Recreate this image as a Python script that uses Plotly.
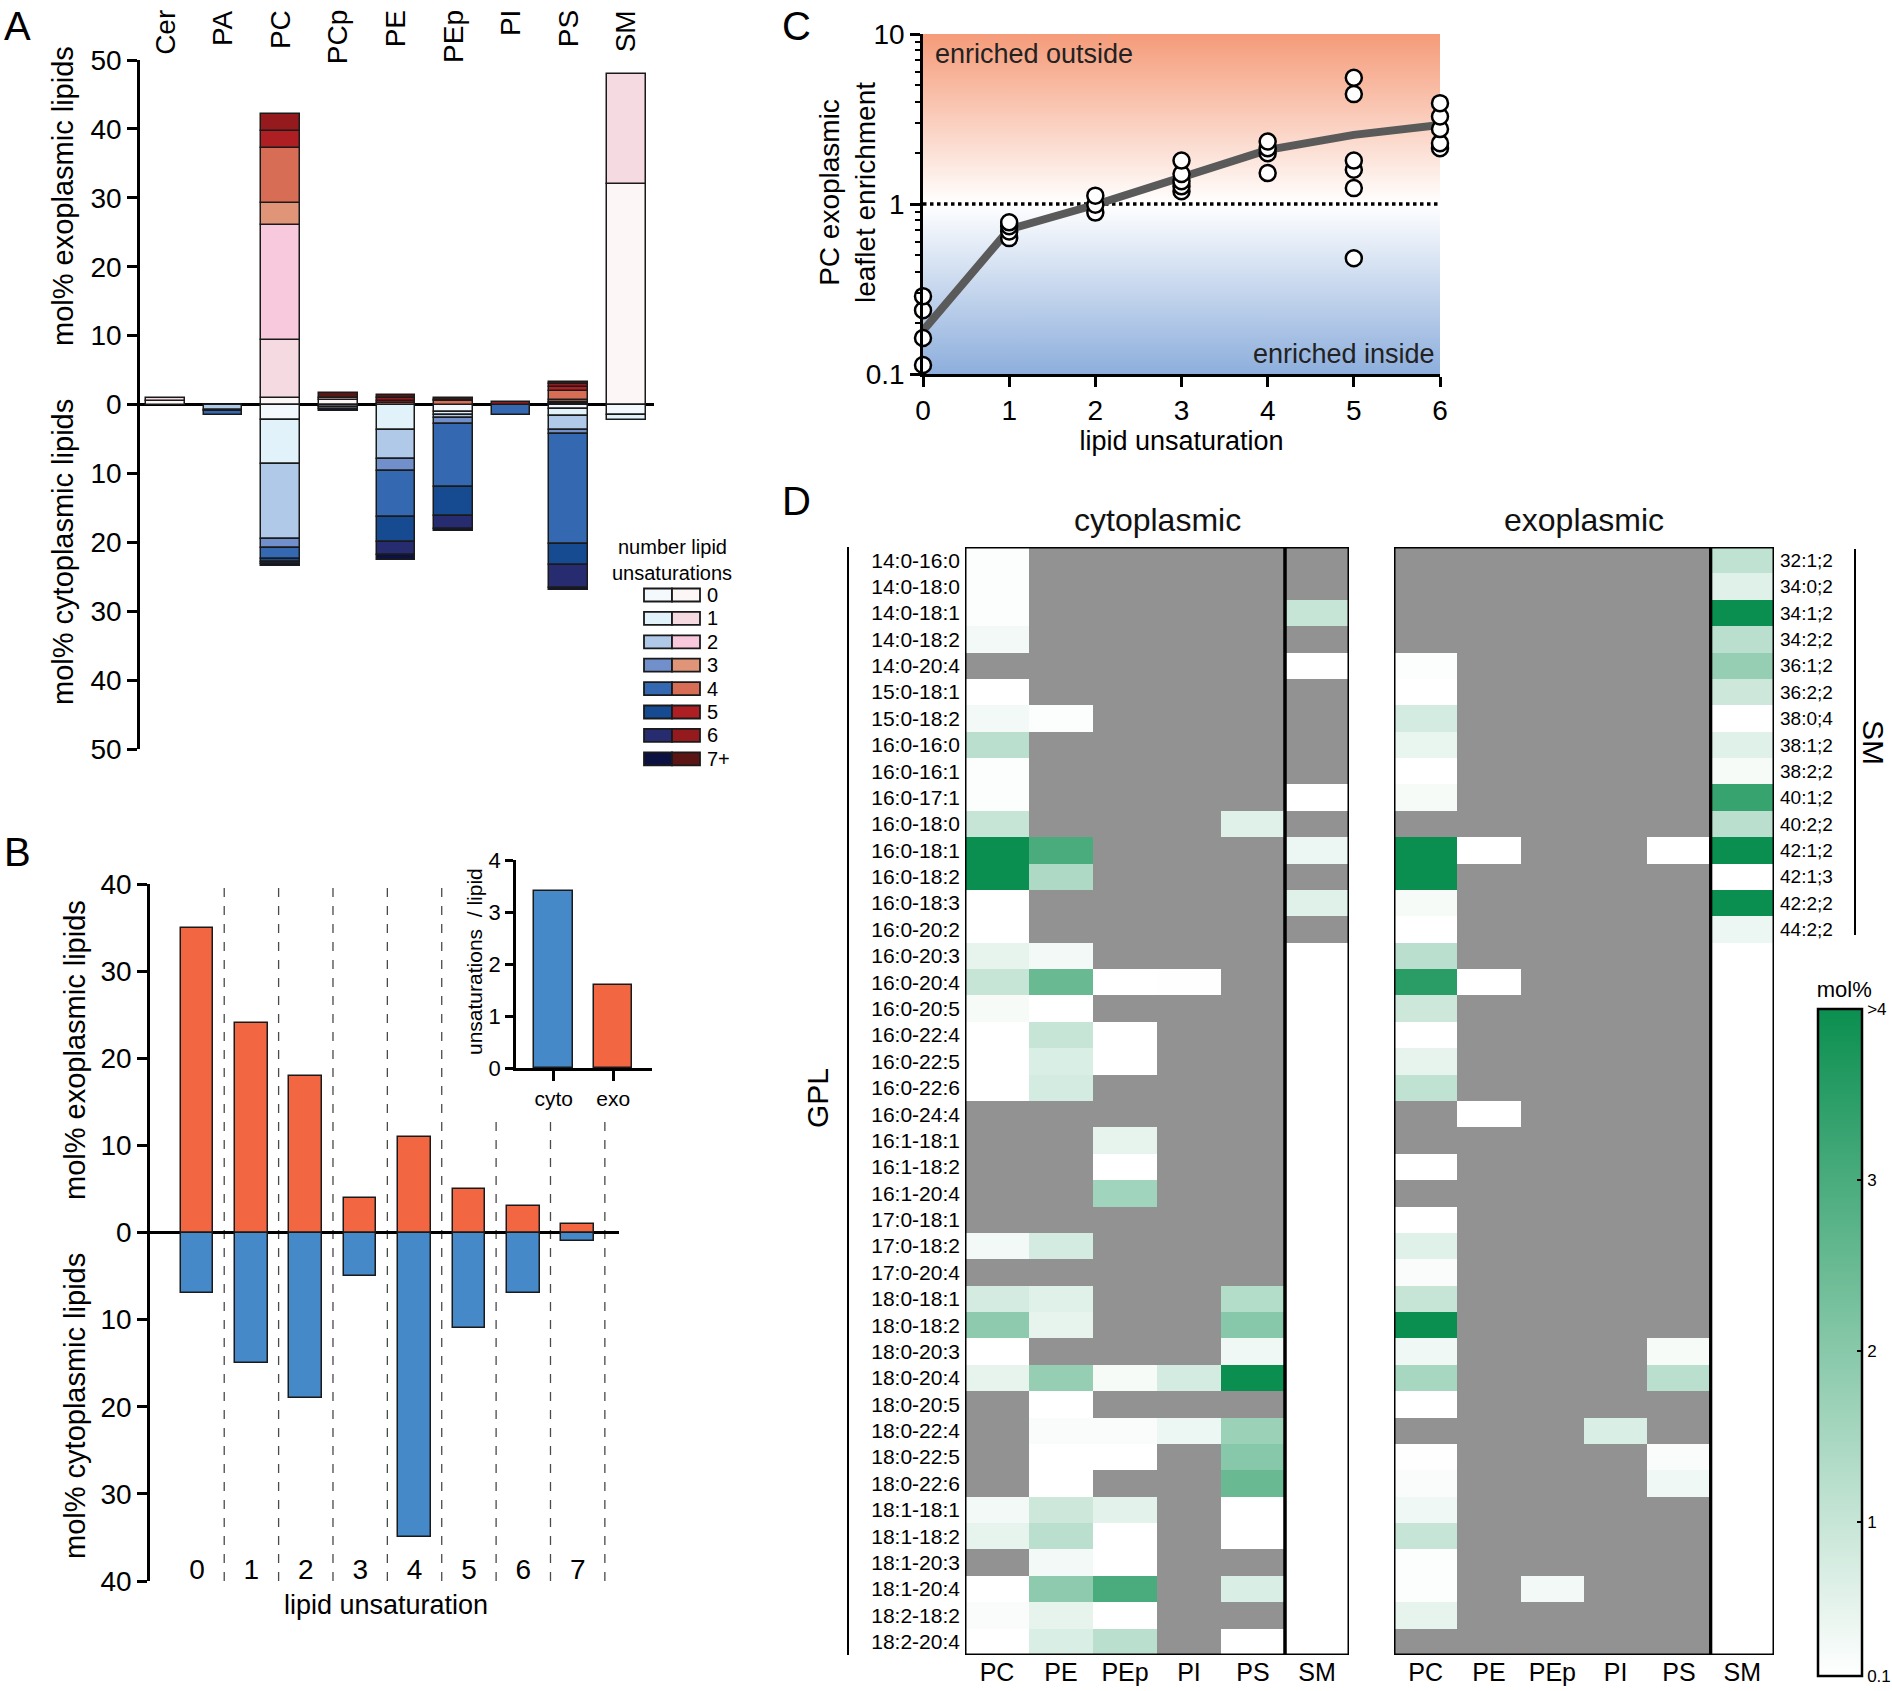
import plotly.graph_objects as go

W, H = 1892, 1691


def fx(p):
    return p / W


def fy(p):
    return 1 - p / H


NARROW = "Liberation Sans Narrow, Arial Narrow, Liberation Sans, Arial, sans-serif"
SANS = "Liberation Sans, Arial, Helvetica, sans-serif"
N = None

# ---------------- Panel A data ----------------
lipid_classes = ['Cer', 'PA', 'PC', 'PCp', 'PE', 'PEp', 'PI', 'PS', 'SM']
unsat_levels = ['0', '1', '2', '3', '4', '5', '6', '7+']
exo_lvl0 = [0.5, 0, 1.0, 0.7, 0, 0, 0, 0.1, 32.0]
exo_lvl1 = [0.4, 0, 8.3, 0.3, 0, 0, 0, 0.1, 16.0]
exo_lvl2 = [0, 0, 16.7, 0, 0, 0, 0, 0.2, 0]
exo_lvl3 = [0, 0, 3.3, 0, 0, 0, 0, 0.2, 0]
exo_lvl4 = [0, 0, 7.9, 0, 0.2, 0.5, 0, 1.4, 0]
exo_lvl5 = [0, 0, 2.5, 0, 0.3, 0, 0, 0.5, 0]
exo_lvl6 = [0, 0, 2.5, 0, 0.4, 0.1, 0.3, 0.5, 0]
exo_lvl7 = [0, 0, 0, 0.6, 0.5, 0.4, 0, 0.3, 0]
cyto_lvl0 = [0, 0, 2.3, 0.4, 0, 1.1, 0, 0.6, 1.5]
cyto_lvl1 = [0, 0.1, 6.3, 0.2, 3.7, 0.4, 0, 1.0, 0.8]
cyto_lvl2 = [0, 0.7, 10.9, 0, 4.2, 0.5, 0, 2.1, 0]
cyto_lvl3 = [0, 0.1, 1.3, 0, 1.8, 0.8, 0, 0.6, 0]
cyto_lvl4 = [0, 0.6, 1.6, 0, 6.6, 9.2, 1.5, 16.0, 0]
cyto_lvl5 = [0, 0, 0.4, 0, 3.6, 4.2, 0, 3.0, 0]
cyto_lvl6 = [0, 0, 0.3, 0, 1.9, 1.8, 0, 3.3, 0]
cyto_lvl7 = [0, 0, 0.3, 0.4, 0.7, 0.4, 0, 0.3, 0]
exo_levels = [exo_lvl0, exo_lvl1, exo_lvl2, exo_lvl3, exo_lvl4, exo_lvl5, exo_lvl6, exo_lvl7]
cyto_levels = [cyto_lvl0, cyto_lvl1, cyto_lvl2, cyto_lvl3, cyto_lvl4, cyto_lvl5, cyto_lvl6, cyto_lvl7]
blue_scale = ['#f4f9fd', '#e1f2fb', '#b1c9e8', '#7190cb', '#3469b1', '#164b92', '#272c71', '#0b1242']
red_scale = ['#fdf6f7', '#f5dbe1', '#f8c9dc', '#e09478', '#d86d55', '#ae1f24', '#951a1e', '#5b1515']

# ---------------- Panel B data ----------------
unsat_b = [0, 1, 2, 3, 4, 5, 6, 7]
exo_b = [35, 24, 18, 4, 11, 5, 3, 1]
cyto_b = [7, 15, 19, 5, 35, 11, 7, 1]
inset_cats = ['cyto', 'exo']
inset_vals = [3.4, 1.6]
EXO_C = '#f26641'
CYTO_C = '#4589c8'

# ---------------- Panel C data ----------------
c_unsat = [0, 1, 2, 3, 4, 5, 6]
c_mean = [0.18, 0.71, 0.99, 1.42, 2.08, 2.55, 2.92]
c_reps = [
    [0.113, 0.163, 0.237, 0.287],
    [0.63, 0.69, 0.74, 0.78],
    [0.89, 0.99, 1.12],
    [1.19, 1.27, 1.36, 1.50, 1.80],
    [1.52, 1.99, 2.13, 2.33],
    [0.48, 1.24, 1.59, 1.80, 4.43, 5.53],
    [2.13, 2.28, 2.76, 3.27, 3.92],
]

# ---------------- Panel D data ----------------
gpl_species = ['14:0-16:0', '14:0-18:0', '14:0-18:1', '14:0-18:2', '14:0-20:4', '15:0-18:1',
               '15:0-18:2', '16:0-16:0', '16:0-16:1', '16:0-17:1', '16:0-18:0', '16:0-18:1',
               '16:0-18:2', '16:0-18:3', '16:0-20:2', '16:0-20:3', '16:0-20:4', '16:0-20:5',
               '16:0-22:4', '16:0-22:5', '16:0-22:6', '16:0-24:4', '16:1-18:1', '16:1-18:2',
               '16:1-20:4', '17:0-18:1', '17:0-18:2', '17:0-20:4', '18:0-18:1', '18:0-18:2',
               '18:0-20:3', '18:0-20:4', '18:0-20:5', '18:0-22:4', '18:0-22:5', '18:0-22:6',
               '18:1-18:1', '18:1-18:2', '18:1-20:3', '18:1-20:4', '18:2-18:2', '18:2-20:4']
sm_species = ['32:1;2', '34:0;2', '34:1;2', '34:2;2', '36:1;2', '36:2;2', '38:0;4', '38:1;2',
              '38:2;2', '40:1;2', '40:2;2', '42:1;2', '42:1;3', '42:2;2', '44:2;2']
hm_cols = ['PC', 'PE', 'PEp', 'PI', 'PS', 'SM']

cyto_PC = [0.15, 0.15, 0.15, 0.3, N, 0.1, 0.3, 1.2, 0.15, 0.15, 1.0, 4.5, 4.5, 0.1, 0.1, 0.5, 1.0,
           0.25, 0.1, 0.1, 0.1, N, N, N, N, N, 0.3, N, 0.8, 1.9, 0.1, 0.5, N, N, N, N, 0.3, 0.5,
           N, 0.1, 0.2, 0.1]
cyto_PE = [N, N, N, N, N, N, 0.15, N, N, N, N, 3.0, 1.4, N, N, 0.3, 2.5, 0.1, 1.0, 0.7, 0.8,
           N, N, N, N, N, 0.8, N, 0.6, 0.5, N, 1.8, 0.1, 0.2, 0.1, 0.1, 0.9, 1.2, 0.3, 1.9, 0.5, 0.7]
cyto_PEp = [N, N, N, N, N, N, N, N, N, N, N, N, N, N, N, N, 0.1, N, 0.1, 0.1, N, N, 0.5, 0.1,
            1.6, N, N, N, N, N, N, 0.25, N, 0.2, 0.1, N, 0.55, 0.1, 0.1, 3.0, 0.1, 1.2]
cyto_PI = [N, N, N, N, N, N, N, N, N, N, N, N, N, N, N, N, 0.12, N, N, N, N, N, N, N, N, N,
           N, N, N, N, N, 0.8, N, 0.4, N, N, N, N, N, N, N, N]
cyto_PS = [N, N, N, N, N, N, N, N, N, N, 0.6, N, N, N, N, N, N, N, N, N, N, N, N, N, N, N, N,
           N, 1.3, 2.0, 0.35, 4.5, N, 1.7, 2.0, 2.5, 0.1, 0.1, N, 0.7, N, 0.1]
cyto_SM = [N, N, 1.0, N, 0.1, N, N, N, N, 0.1, N, 0.4, N, 0.6, N]

exo_PC = [N, N, N, N, 0.15, 0.1, 0.8, 0.45, 0.1, 0.25, N, 4.5, 4.5, 0.25, 0.1, 1.2, 3.5, 0.9,
          0.1, 0.5, 1.1, N, N, 0.1, N, 0.1, 0.6, 0.2, 1.0, 4.5, 0.35, 1.5, 0.1, N, 0.12, 0.2,
          0.35, 1.0, 0.15, 0.15, 0.5, N]
exo_PE = [N, N, N, N, N, N, N, N, N, N, N, 0.1, N, N, N, N, 0.1, N, N, N, N, 0.1, N, N, N, N,
          N, N, N, N, N, N, N, N, N, N, N, N, N, N, N, N]
exo_PEp = [N, N, N, N, N, N, N, N, N, N, N, N, N, N, N, N, N, N, N, N, N, N, N, N, N, N, N, N,
           N, N, N, N, N, N, N, N, N, N, N, 0.3, N, N]
exo_PI = [N, N, N, N, N, N, N, N, N, N, N, N, N, N, N, N, N, N, N, N, N, N, N, N, N, N, N, N,
          N, N, N, N, N, 0.7, N, N, N, N, N, N, N, N]
exo_PS = [N, N, N, N, N, N, N, N, N, N, N, 0.1, N, N, N, N, N, N, N, N, N, N, N, N, N, N, N,
          N, N, N, 0.25, 1.2, N, N, 0.2, 0.35, N, N, N, N, N, N]
exo_SM = [1.1, 0.6, 4.5, 1.2, 1.8, 0.9, 0.1, 0.6, 0.25, 3.3, 1.2, 4.5, 0.1, 4.5, 0.4]

GRAY = '#929292'
GREEN_SCALE = [[0, '#ffffff'], [1, '#0b8f50']]

fig = go.Figure()

# ---------------- Panel A ----------------
for i in range(len(unsat_levels)):
    fig.add_trace(go.Bar(
        x=lipid_classes, y=[v if v else None for v in exo_levels[i]], width=0.67,
        marker=dict(color=red_scale[i], line=dict(color='#1a1a1a', width=1.5)),
        xaxis='x', yaxis='y', showlegend=False, name='exo ' + unsat_levels[i]))
    fig.add_trace(go.Bar(
        x=lipid_classes, y=[-v if v else None for v in cyto_levels[i]], width=0.67,
        marker=dict(color=blue_scale[i], line=dict(color='#1a1a1a', width=1.5)),
        xaxis='x', yaxis='y', showlegend=False, name='cyto ' + unsat_levels[i]))

# ---------------- Panel B ----------------
fig.add_trace(go.Bar(x=unsat_b, y=exo_b, width=0.6,
                     marker=dict(color=EXO_C, line=dict(color='#1a1a1a', width=1.5)),
                     xaxis='x2', yaxis='y2', showlegend=False))
fig.add_trace(go.Bar(x=unsat_b, y=[-v for v in cyto_b], width=0.6,
                     marker=dict(color=CYTO_C, line=dict(color='#1a1a1a', width=1.5)),
                     xaxis='x2', yaxis='y2', showlegend=False))
fig.add_trace(go.Scatter(x=unsat_b, y=[-39] * len(unsat_b), mode='text',
                         text=[str(u) for u in unsat_b], cliponaxis=False,
                         textfont=dict(size=28, family=NARROW, color='black'),
                         xaxis='x2', yaxis='y2', showlegend=False, hoverinfo='skip'))
fig.add_trace(go.Bar(x=inset_cats, y=inset_vals, width=0.65,
                     marker=dict(color=[CYTO_C, EXO_C], line=dict(color='#1a1a1a', width=1.5)),
                     xaxis='x3', yaxis='y3', showlegend=False))

# ---------------- Panel C ----------------
fig.add_trace(go.Scatter(
    x=[0, 6, 6, 0, 0], y=[0.1, 0.1, 10, 10, 0.1], mode='lines', fill='toself',
    line=dict(width=0), hoverinfo='skip', showlegend=False,
    fillgradient=dict(type='vertical',
                      colorscale=[[0, '#8daedc'], [0.5, '#ffffff'], [1, '#f59b79']]),
    xaxis='x4', yaxis='y4'))
fig.add_trace(go.Scatter(x=[c_unsat[0], c_unsat[-1]], y=[1, 1], mode='lines',
                         line=dict(color='black', width=3.5, dash='dot'),
                         xaxis='x4', yaxis='y4', showlegend=False, hoverinfo='skip'))
fig.add_trace(go.Scatter(x=c_unsat, y=c_mean, mode='lines',
                         line=dict(color='#5a5a5a', width=8),
                         xaxis='x4', yaxis='y4', showlegend=False))
pts_x, pts_y = [], []
for u, reps in zip(c_unsat, c_reps):
    for v in reps:
        pts_x.append(u)
        pts_y.append(v)
fig.add_trace(go.Scatter(x=pts_x, y=pts_y, mode='markers', cliponaxis=False,
                         marker=dict(symbol='circle', size=16, color='white',
                                     line=dict(color='black', width=2.5)),
                         xaxis='x4', yaxis='y4', showlegend=False))


# ---------------- Panel D ----------------
def build(cols, sm):
    z, mask = [], []
    n = len(gpl_species)
    for r in range(n):
        row, mrow = [], []
        for col in cols:
            v = col[r]
            row.append(v)
            mrow.append(1 if v is None else None)
        if r < len(sm):
            row.append(sm[r])
            mrow.append(1 if sm[r] is None else None)
        else:
            row.append(None)
            mrow.append(None)
        z.append(row)
        mask.append(mrow)
    return z, mask


z_cyto, m_cyto = build([cyto_PC, cyto_PE, cyto_PEp, cyto_PI, cyto_PS], cyto_SM)
z_exo, m_exo = build([exo_PC, exo_PE, exo_PEp, exo_PI, exo_PS], exo_SM)

for z, m, xa, ya in [(z_cyto, m_cyto, 'x5', 'y5'), (z_exo, m_exo, 'x6', 'y6')]:
    fig.add_trace(go.Heatmap(x=hm_cols, y=gpl_species, z=m,
                             colorscale=[[0, GRAY], [1, GRAY]], showscale=False,
                             hoverinfo='skip', xaxis=xa, yaxis=ya))
    fig.add_trace(go.Heatmap(x=hm_cols, y=gpl_species, z=z, coloraxis='coloraxis',
                             xaxis=xa, yaxis=ya))

# ---------------- Layout ----------------
axis_common = dict(color='black', linecolor='black', tickcolor='black', showgrid=False,
                   zeroline=False)
tick_abs = [-50, -40, -30, -20, -10, 0, 10, 20, 30, 40, 50]
tick_abs_b = [-40, -30, -20, -10, 0, 10, 20, 30, 40]

layout = dict(
    width=W, height=H, autosize=False,
    margin=dict(l=0, r=0, t=0, b=0, autoexpand=False),
    paper_bgcolor='white', plot_bgcolor='rgba(0,0,0,0)',
    barmode='relative', bargap=0,
    font=dict(family=NARROW, color='black', size=26),
    showlegend=False,
    # Panel A
    xaxis=dict(domain=[fx(140), fx(654)], anchor='y', side='top', type='category',
               range=[-0.44, 8.48], showticklabels=False, ticks='', showline=False,
               **axis_common),
    yaxis=dict(domain=[fy(749), fy(60)], anchor='x', range=[-50, 50],
               tickvals=tick_abs, ticktext=[str(abs(v)) for v in tick_abs],
               ticks='outside', ticklen=10, tickwidth=2.5, showline=True, linewidth=2.5,
               tickfont=dict(size=28, family=NARROW),
               **{**axis_common, 'zeroline': True}, zerolinecolor='black', zerolinewidth=2.5),
    # Panel B
    xaxis2=dict(domain=[fx(150), fx(619)], anchor='y2', range=[-0.865, 7.76],
                showticklabels=False, ticks='', showline=False, **axis_common),
    yaxis2=dict(domain=[fy(1581), fy(884)], anchor='x2', range=[-40, 40],
                tickvals=tick_abs_b, ticktext=[str(abs(v)) for v in tick_abs_b],
                ticks='outside', ticklen=10, tickwidth=2.5, showline=True, linewidth=2.5,
                tickfont=dict(size=28, family=NARROW),
                **{**axis_common, 'zeroline': True}, zerolinecolor='black', zerolinewidth=2.5),
    xaxis3=dict(domain=[fx(516), fx(652)], anchor='y3', type='category',
                range=[-0.633, 1.653], ticks='outside', ticklen=10, tickwidth=2.5,
                showline=True, linewidth=2.5, tickfont=dict(size=21, family=NARROW),
                **axis_common),
    yaxis3=dict(domain=[fy(1068), fy(860)], anchor='x3', range=[0, 4], dtick=1,
                ticks='outside', ticklen=8, tickwidth=2.5, showline=True, linewidth=2.5,
                tickfont=dict(size=22, family=NARROW), **axis_common),
    # Panel C
    xaxis4=dict(domain=[fx(923), fx(1440)], anchor='y4', range=[0, 6], dtick=1,
                ticks='outside', ticklen=10, tickwidth=2.5, showline=True, linewidth=2.5,
                tickfont=dict(size=28, family=NARROW),
                title=dict(text='lipid unsaturation', font=dict(size=27, family=NARROW),
                           standoff=2),
                **axis_common),
    yaxis4=dict(domain=[fy(374), fy(34)], anchor='x4', type='log', range=[-1, 1],
                tickvals=[0.1, 1, 10], ticktext=['0.1', '1', '10'],
                ticks='outside', ticklen=10, tickwidth=2.5, showline=True, linewidth=2.5,
                tickfont=dict(size=28, family=NARROW),
                minor=dict(ticks='outside', ticklen=5, tickwidth=2, tickcolor='black',
                           tickvals=[0.2, 0.3, 0.4, 0.5, 0.6, 0.7, 0.8, 0.9,
                                     2, 3, 4, 5, 6, 7, 8, 9]),
                **axis_common),
    # Panel D
    xaxis5=dict(domain=[fx(965), fx(1349)], anchor='y5', type='category',
                range=[-0.5, 5.5], ticks='', showline=False,
                tickfont=dict(size=25, family=SANS), **axis_common),
    yaxis5=dict(domain=[fy(1655), fy(547)], anchor='x5', type='category',
                range=[41.5, -0.5], ticks='', showline=False, ticklabelstandoff=4,
                tickfont=dict(size=21, family=SANS), **axis_common),
    xaxis6=dict(domain=[fx(1394), fx(1774)], anchor='y6', type='category',
                range=[-0.5, 5.5], ticks='', showline=False,
                tickfont=dict(size=25, family=SANS), **axis_common),
    yaxis6=dict(domain=[fy(1655), fy(547)], anchor='x6', type='category', side='right',
                range=[41.5, -0.5], ticks='', showline=False, ticklabelstandoff=5,
                tickvals=gpl_species[:len(sm_species)], ticktext=sm_species,
                tickfont=dict(size=19, family=SANS), **axis_common),
    coloraxis=dict(colorscale=GREEN_SCALE, cmin=0.1, cmax=4,
                   colorbar=dict(x=fx(1818), xanchor='left', xpad=0, ypad=0,
                                 thicknessmode='pixels', thickness=44,
                                 lenmode='fraction', len=(1676 - 979) / H,
                                 y=fy(1676), yanchor='bottom', outlinewidth=2.5,
                                 outlinecolor='black', tickvals=[0.1, 1, 2, 3, 4],
                                 ticktext=['0.1', '1', '2', '3', '>4'], ticks='inside',
                                 ticklen=6, tickwidth=2, tickcolor='black',
                                 tickfont=dict(size=17, family=SANS, color='black'),
                                 title=dict(text='mol%', side='top',
                                            font=dict(size=22, family=SANS, color='black')))),
)
fig.update_layout(**layout)

shapes = []
# panel B dashed separators
for k in unsat_b:
    top = 40 if k + 0.5 < 5 else 13
    shapes.append(dict(type='line', xref='x2', yref='y2', x0=k + 0.5, x1=k + 0.5, y0=-40, y1=top,
                       line=dict(color='#4a4a4a', width=1.3, dash='dash'), layer='below'))
# panel D boxes
for xr, yr in [('x5', 'y5'), ('x6', 'y6')]:
    shapes.append(dict(type='rect', xref=xr, yref=yr, x0=-0.5, x1=4.5, y0=-0.5, y1=41.5,
                       line=dict(color='black', width=3)))
    shapes.append(dict(type='rect', xref=xr, yref=yr, x0=4.5, x1=5.5, y0=-0.5, y1=41.5,
                       line=dict(color='black', width=3)))
# GPL bracket line & SM bracket line
shapes.append(dict(type='line', xref='paper', yref='paper', x0=fx(848), x1=fx(848),
                   y0=fy(547), y1=fy(1655), line=dict(color='black', width=2)))
shapes.append(dict(type='line', xref='paper', yref='paper', x0=fx(1855), x1=fx(1855),
                   y0=fy(549), y1=fy(935), line=dict(color='black', width=2)))
# panel A legend swatches
for i, lev in enumerate(unsat_levels):
    yc = 595 + 23.4 * i
    shapes.append(dict(type='rect', xref='paper', yref='paper', x0=fx(644), x1=fx(672),
                       y0=fy(yc + 6.5), y1=fy(yc - 6.5), fillcolor=blue_scale[i],
                       line=dict(color='#1a1a1a', width=1.8)))
    shapes.append(dict(type='rect', xref='paper', yref='paper', x0=fx(672), x1=fx(700),
                       y0=fy(yc + 6.5), y1=fy(yc - 6.5), fillcolor=red_scale[i],
                       line=dict(color='#1a1a1a', width=1.8)))
fig.update_layout(shapes=shapes)

ann = []


def txt(text, x, y, size, angle=0, xanchor='center', yanchor='middle', family=NARROW):
    ann.append(dict(text=text, x=fx(x), y=fy(y), xref='paper', yref='paper',
                    showarrow=False, textangle=angle, xanchor=xanchor, yanchor=yanchor,
                    font=dict(size=size, family=family, color='black')))


# panel A category labels (rotated, aligned at their top end)
for cls in lipid_classes:
    ann.append(dict(text=cls, x=cls, xref='x', y=fy(8), yref='paper', textangle=-90,
                    xanchor='center', yanchor='top', showarrow=False,
                    font=dict(size=28, family=NARROW, color='black')))
# panel letters
txt('A', 2, 26, 40, xanchor='left', family=SANS)
txt('B', 2, 852, 40, xanchor='left', family=SANS)
txt('C', 780, 26, 40, xanchor='left', family=SANS)
txt('D', 780, 501, 40, xanchor='left', family=SANS)
# panel A titles
txt('mol% exoplasmic lipids', 63, 196, 29, angle=-90)
txt('mol% cytoplasmic lipids', 63, 552, 29, angle=-90)
txt('number lipid', 672, 547, 20)
txt('unsaturations', 672, 573, 20)
for i, lev in enumerate(unsat_levels):
    txt(lev, 705, 595 + 23.4 * i, 20, xanchor='left')
# panel B titles
txt('mol% exoplasmic lipids', 75, 1050, 29, angle=-90)
txt('mol% cytoplasmic lipids', 75, 1406, 29, angle=-90)
txt('unsaturations  / lipid', 474, 962, 21, angle=-90)
txt('lipid unsaturation', 386, 1605, 27)
# panel C titles
txt('PC exoplasmic<br>leaflet enrichment', 847, 193, 28, angle=-90)
ann.append(dict(text='enriched outside', xref='x4 domain', yref='y4 domain', x=0.02, y=0.99,
                xanchor='left', yanchor='top', showarrow=False,
                font=dict(size=27, family=NARROW, color='#222')))
ann.append(dict(text='enriched inside', xref='x4 domain', yref='y4 domain', x=0.995, y=0.01,
                xanchor='right', yanchor='bottom', showarrow=False,
                font=dict(size=27, family=NARROW, color='#222')))
# panel D titles
ann.append(dict(text='cytoplasmic', xref='x5 domain', yref='paper', x=0.5, y=fy(520),
                xanchor='center', yanchor='middle',
                showarrow=False, font=dict(size=32, family=SANS, color='#111')))
ann.append(dict(text='exoplasmic', xref='x6 domain', yref='paper', x=0.5, y=fy(520),
                xanchor='center', yanchor='middle',
                showarrow=False, font=dict(size=32, family=SANS, color='#111')))
txt('GPL', 817, 1098, 30, angle=-90, family=SANS)
txt('SM', 1874, 742, 30, angle=90, family=SANS)
fig.update_layout(annotations=ann)

fig.write_html('out.html', config={'displayModeBar': False},
               post_script="document.body.style.margin='0px';"
                           "document.body.style.padding='0px';"
                           "document.body.style.overflow='hidden';")
